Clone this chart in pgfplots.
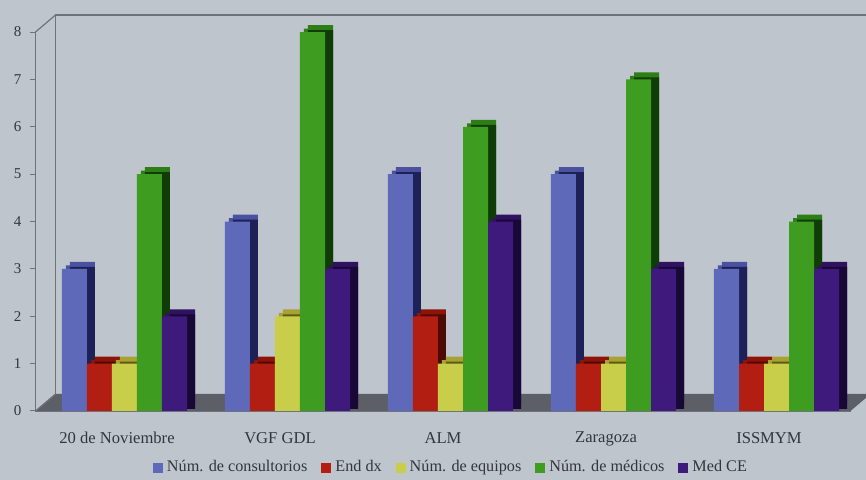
\documentclass[border=0pt]{standalone}
\usepackage{pgfplots}
\pgfplotsset{compat=1.18}
\usepackage{pgfplotstable}
\usepackage{fontspec}
\setmainfont{Liberation Serif}
\definecolor{bg}{HTML}{BEC5CD}
\definecolor{txt}{HTML}{33363C}
\definecolor{wall}{HTML}{6E737A}
\definecolor{floorc}{HTML}{5C6066}
\definecolor{cA}{HTML}{5F69BA}\definecolor{tA}{HTML}{4A52A0}\definecolor{sA}{HTML}{1E2058}
\definecolor{cB}{HTML}{B21E12}\definecolor{tB}{HTML}{8E1408}\definecolor{sB}{HTML}{4E0A04}
\definecolor{cC}{HTML}{C8CE4A}\definecolor{tC}{HTML}{A8A232}\definecolor{sC}{HTML}{5C5A18}
\definecolor{cD}{HTML}{3E9C20}\definecolor{tD}{HTML}{2E7E16}\definecolor{sD}{HTML}{103C08}
\definecolor{cE}{HTML}{3E1A7C}\definecolor{tE}{HTML}{301260}\definecolor{sE}{HTML}{180836}
\pgfplotstableread{
x a b c d e
0 3 1 1 5 2
1 4 1 2 8 3
2 5 2 1 6 4
3 5 1 1 7 3
4 3 1 1 4 3
}\data
\begin{document}
\begin{tikzpicture}
\fill[bg] (0,0) rectangle (433pt,240pt);
\useasboundingbox (0,0) rectangle (433pt,240pt);
\begin{axis}[
  at={(17.75pt,34.5pt)}, anchor=south west,
  scale only axis, width=407.5pt, height=189.5pt,
  xmin=-0.5, xmax=4.5, ymin=0, ymax=8,
  clip=false,
  ybar, bar width=12.5pt,
  axis lines*=left,
  axis line style={draw=wall, line width=0.6pt},
  tick style={draw=wall, line width=0.5pt},
  tick align=outside,
  major tick length=2.5pt,
  ytick={0,1,...,8},
  xtick={0,1,2,3,4},
  xticklabels={20 de Noviembre, VGF GDL, ALM, Zaragoza, ISSMYM},
  x tick style={draw=none},
  extra x ticks={0.5,1.5,2.5,3.5},
  extra x tick labels={},
  extra x tick style={tick style={draw=wall}, major tick length=3pt},
  /pgf/number format/assume math mode=true,
  yticklabel style={font=\fontsize{7.5}{9}\selectfont, text=txt, xshift=-1pt},
  xticklabel style={font=\fontsize{8.3}{10}\selectfont, text=txt, yshift=-4.5pt},
  legend style={at={(axis description cs:0.511,-0.150)}, anchor=center,
    draw=none, fill=none, legend columns=5,
    font=\fontsize{8.1}{9.5}\selectfont, text=txt,
    /tikz/every even column/.append style={column sep=5pt}},
  legend image code/.code={\fill[#1,draw=none] (0pt,-2.5pt) rectangle (5pt,2.5pt);},
  legend cell align=left,
]
% floor and walls
\fill[floorc] (axis cs:-0.5,0) -- (axis cs:4.5,0) -- ([shift={(10pt,8.5pt)}]axis cs:4.5,0) -- ([shift={(10pt,8.5pt)}]axis cs:-0.5,0) -- cycle;
\draw[wall, line width=0.6pt] ([shift={(10pt,8.5pt)}]axis cs:-0.5,0) -- ([shift={(10pt,8.5pt)}]axis cs:-0.5,8) -- ([shift={(10pt,8.5pt)}]axis cs:4.5,8);
\draw[wall, line width=0.6pt] (axis cs:-0.5,8) -- ([shift={(10pt,8.5pt)}]axis cs:-0.5,8);
\draw[wall, line width=0.6pt] (axis cs:-0.5,0) -- ([shift={(10pt,8.5pt)}]axis cs:-0.5,0);
% series A
\addplot[fill=tA, draw=none, bar shift=-17.25pt, yshift=3.5pt, forget plot] table[x=x,y=a]{\data};
\addplot[fill=tA, draw=none, bar shift=-19.25pt, yshift=1.75pt, forget plot] table[x=x,y=a]{\data};
\addplot[fill=sA, draw=none, bar shift=-17.25pt, yshift=1pt, forget plot] table[x=x,y=a]{\data};
\addplot[fill=cA, draw=none, bar shift=-21.25pt] table[x=x,y=a]{\data};
% series B
\addplot[fill=tB, draw=none, bar shift=-4.75pt, yshift=3.5pt, forget plot] table[x=x,y=b]{\data};
\addplot[fill=tB, draw=none, bar shift=-6.75pt, yshift=1.75pt, forget plot] table[x=x,y=b]{\data};
\addplot[fill=sB, draw=none, bar shift=-4.75pt, yshift=1pt, forget plot] table[x=x,y=b]{\data};
\addplot[fill=cB, draw=none, bar shift=-8.75pt] table[x=x,y=b]{\data};
% series C
\addplot[fill=tC, draw=none, bar shift=7.75pt, yshift=3.5pt, forget plot] table[x=x,y=c]{\data};
\addplot[fill=tC, draw=none, bar shift=5.75pt, yshift=1.75pt, forget plot] table[x=x,y=c]{\data};
\addplot[fill=sC, draw=none, bar shift=7.75pt, yshift=1pt, forget plot] table[x=x,y=c]{\data};
\addplot[fill=cC, draw=none, bar shift=3.75pt] table[x=x,y=c]{\data};
% series D
\addplot[fill=tD, draw=none, bar shift=20.25pt, yshift=3.5pt, forget plot] table[x=x,y=d]{\data};
\addplot[fill=tD, draw=none, bar shift=18.25pt, yshift=1.75pt, forget plot] table[x=x,y=d]{\data};
\addplot[fill=sD, draw=none, bar shift=20.25pt, yshift=1pt, forget plot] table[x=x,y=d]{\data};
\addplot[fill=cD, draw=none, bar shift=16.25pt] table[x=x,y=d]{\data};
% series E
\addplot[fill=tE, draw=none, bar shift=32.75pt, yshift=3.5pt, forget plot] table[x=x,y=e]{\data};
\addplot[fill=tE, draw=none, bar shift=30.75pt, yshift=1.75pt, forget plot] table[x=x,y=e]{\data};
\addplot[fill=sE, draw=none, bar shift=32.75pt, yshift=1pt, forget plot] table[x=x,y=e]{\data};
\addplot[fill=cE, draw=none, bar shift=28.75pt] table[x=x,y=e]{\data};
\legend{Núm. de consultorios, End dx, Núm. de equipos, Núm. de médicos, Med CE}
\end{axis}
\end{tikzpicture}
\end{document}
